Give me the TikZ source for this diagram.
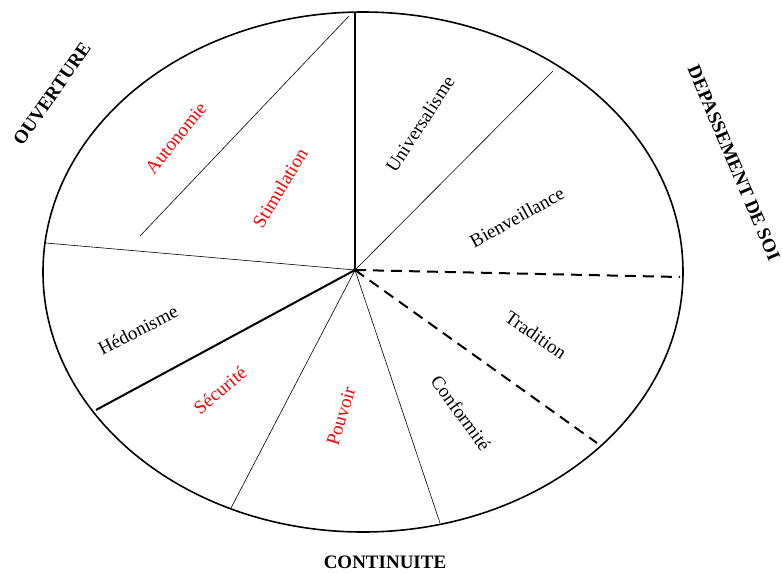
\documentclass[tikz,border=0pt]{standalone}
\usepackage{fontspec}
\setmainfont{Liberation Serif}
\begin{document}
\begin{tikzpicture}[x=1pt,y=-1pt,
  lbl/.style={font=\fontsize{19}{22}\selectfont, inner sep=0pt},
  redlbl/.style={lbl, text=red},
  pole/.style={font=\fontsize{19}{22}\selectfont\bfseries, inner sep=0pt},
  thinline/.style={line width=0.6pt},
  thickline/.style={line width=2pt},
  dashline/.style={line width=2pt, dash pattern=on 11pt off 7pt}]
\useasboundingbox (0,0) rectangle (782,573);
% outline
\draw[line width=1.6pt] (363,272) ellipse [x radius=320, y radius=260];
% spoke ends
\coordinate (c) at (355,270);
\coordinate (pTop) at (355,13);
\coordinate (pUB) at (553,71);
\coordinate (pR) at (680,277);
\coordinate (pTC) at (597,443);
\coordinate (pCP) at (440,523);
\coordinate (pPS) at (231,508);
\coordinate (pSH) at (96,410);
\coordinate (pHA) at (46,243);
\coordinate (aS1) at (140,236);
\coordinate (aS2) at (349,16);
% spokes
\draw[thickline] (c) -- (pTop);
\draw[thinline] (c) -- (pUB);
\draw[dashline] (c) -- (pR);
\draw[dashline] (c) -- (pTC);
\draw[thinline] (c) -- (pCP);
\draw[thinline] (c) -- (pPS);
\draw[thickline] (c) -- (pSH);
\draw[thinline] (c) -- (pHA);
\draw[thinline] (aS1) -- (aS2);
\fill (c) circle (2pt);
% labels
\node[pole, rotate=55] (ouv) at (52,94) {OUVERTURE};
\node[pole, rotate=-67] (dep) at (734,163) {DEPASSEMENT DE SOI};
\node[pole] (cont) at (385,562) {CONTINUITE};
\node[redlbl, rotate=51] (auto) at (176,138) {Autonomie};
\node[redlbl, rotate=59] (stim) at (280,188) {Stimulation};
\node[lbl, rotate=57] (univ) at (420,124) {Universalisme};
\node[lbl, rotate=29] (bien) at (517,217) {Bienveillance};
\node[lbl, rotate=-35] (trad) at (536,335) {Tradition};
\node[lbl, rotate=-54] (conf) at (461,413) {Conformité};
\node[redlbl, rotate=73] (pouv) at (341,416) {Pouvoir};
\node[redlbl, rotate=40] (secu) at (220,390) {Sécurité};
\node[lbl, rotate=27] (hedo) at (138,330) {Hédonisme};
\end{tikzpicture}
\end{document}
